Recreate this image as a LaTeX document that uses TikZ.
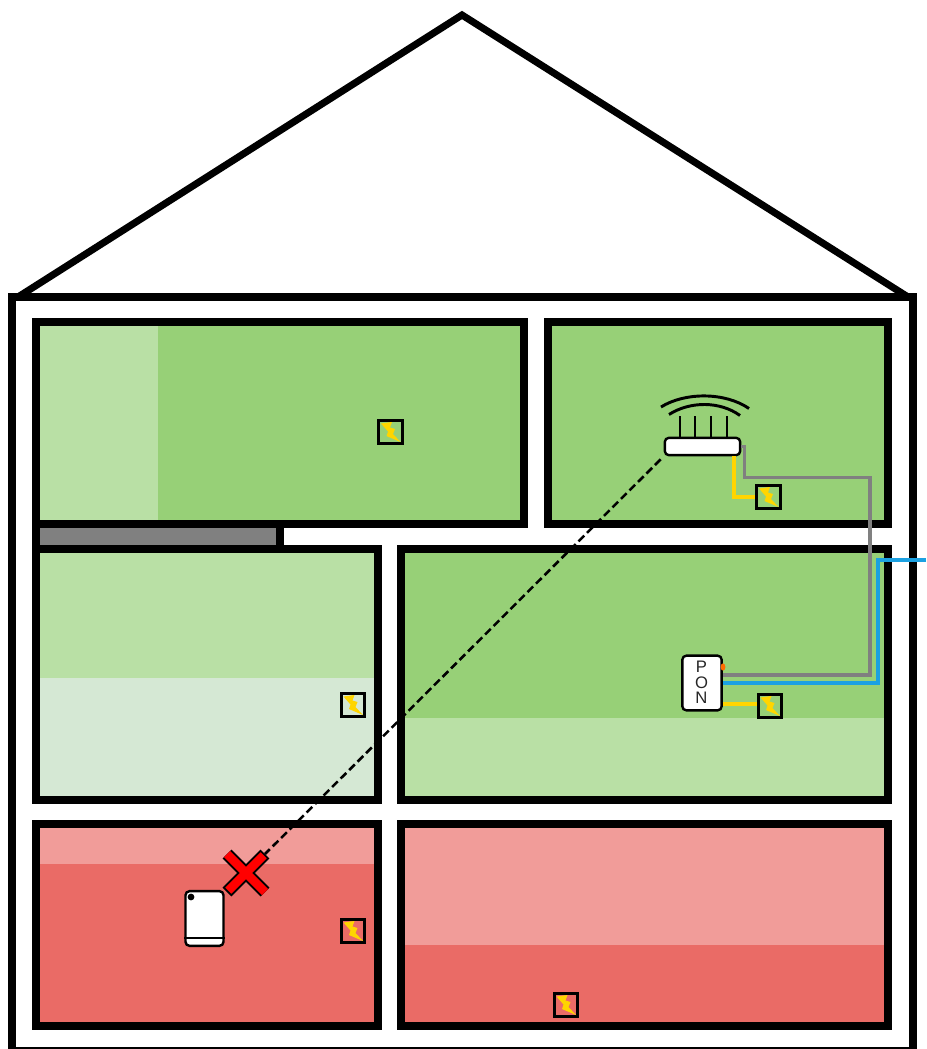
\documentclass[tikz,border=0pt]{standalone}
\usepackage{fontspec}
\setmainfont{Liberation Sans}
\definecolor{gd}{HTML}{97D077}
\definecolor{gl}{HTML}{B9E0A5}
\definecolor{gp}{HTML}{D5E8D4}
\definecolor{rd}{HTML}{EA6B66}
\definecolor{rl}{HTML}{F19C99}
\definecolor{yl}{HTML}{FFD500}
\definecolor{bl}{HTML}{1BA1E2}
\definecolor{gy}{HTML}{808080}
\tikzset{
  x=0.75pt,y=-0.75pt,
  wall/.style={draw=black,line width=5.3pt,line join=miter},
  socket/.style={draw=black,line width=2.2pt,minimum size=17.5pt,inner sep=0pt,rectangle},
  bolt/.style={fill=yl,draw=none},
  device/.style={draw=black,fill=white,line width=1.8pt,rounded corners=3pt,inner sep=0pt},
  wire/.style={line width=2.7pt,line join=miter},
  ant/.style={line width=2.1pt},
  arc/.style={line width=2.2pt},
}
\newcommand{\boltat}[1]{%
  \fill[bolt] ([shift={(-9.5,-8.5)}]#1.center) -- ([shift={(1.5,-10)}]#1.center) -- ([shift={(-0.5,-4.5)}]#1.center) -- ([shift={(4.5,-3)}]#1.center) -- ([shift={(2.5,2)}]#1.center) -- ([shift={(10,10)}]#1.center) -- ([shift={(-4,4)}]#1.center) -- ([shift={(-2.5,-0.5)}]#1.center) -- cycle;
}
\begin{document}
\begin{tikzpicture}
\useasboundingbox (0,0) rectangle (926,1049);
% house
\draw[wall] (12,1051) -- (12,297) -- (913,297) -- (913,1051) -- cycle;
\draw[wall] (18,297) -- (462,15) -- (908,297);
% fills
\fill[gd] (36,322) rectangle (524,524);
\fill[gl] (36,322) rectangle (158,524);
\fill[gd] (548,322) rectangle (888,524);
\fill[gl] (36,549) rectangle (378,678);
\fill[gp] (36,678) rectangle (378,800);
\fill[gd] (401,549) rectangle (888,718);
\fill[gl] (401,718) rectangle (888,800);
\fill[rl] (36,824) rectangle (378,864);
\fill[rd] (36,864) rectangle (378,1026);
\fill[rl] (401,824) rectangle (888,945);
\fill[rd] (401,945) rectangle (888,1026);
\fill[gy] (36,524) rectangle (280,549);
% walls
\draw[wall] (36,524) rectangle (280,549);
\draw[wall] (36,322) rectangle (524,524);
\draw[wall] (548,322) rectangle (888,524);
\draw[wall] (36,549) rectangle (378,800);
\draw[wall] (401,549) rectangle (888,800);
\draw[wall] (36,824) rectangle (378,1026);
\draw[wall] (401,824) rectangle (888,1026);
% sockets
\node[socket] (s1) at (390.5,432) {};
\node[socket] (s2) at (768.5,497) {};
\node[socket] (s3) at (353,705) {};
\node[socket] (s4) at (770,706) {};
\node[socket] (s5) at (353,931) {};
\node[socket] (s6) at (566,1005) {};
\boltat{s1}\boltat{s2}\boltat{s3}\boltat{s4}\boltat{s5}\boltat{s6}
% wires
\coordinate (ext) at (926,559.5);
\node[device,minimum width=56.5pt,minimum height=13pt] (router) at (702.5,446.5) {};
\node[device,minimum width=29.5pt,minimum height=41pt] (pon) at (702,683) {};
\node[device,minimum width=28.5pt,minimum height=41pt] (client) at (204.5,918.5) {};
\coordinate (bp) at (877.5,682.5);
\draw[wire,draw=gy] (router.east) -- ++(3,0) -- ++(0,31) -| (870,675) -- (pon.east |- 0,675);
\draw[wire,draw=bl,line width=3pt] (ext) -| (bp) -- (pon.east |- bp);
\draw[wire,draw=yl] (734,456) |- (s2.west);
\draw[wire,draw=yl] (pon.east |- 0,704) -- (s4.west |- 0,704);
\fill[orange!85!red] (723,667) ellipse (2.4 and 3.6);
\node[fill=none,draw=none,inner sep=0pt,font=\fontsize{12.5pt}{11.6pt}\selectfont,align=center,text=black!85] (ponlabel) at (701.5,682.5) {P\\O\\N};
% client detail
\draw[line width=1.5pt] ([shift={(0,19.5)}]client.west) -- ([shift={(0,19.5)}]client.east);
\fill ([shift={(-13.5,-21.5)}]client.center) circle (3.4);
% antennas
\coordinate (a1) at (680,438); \coordinate (a2) at (695,438);
\coordinate (a3) at (711,438); \coordinate (a4) at (727,438);
\draw[ant] (a1) -- ++(0,-22) (a2) -- ++(0,-22) (a3) -- ++(0,-22) (a4) -- ++(0,-22);
\draw[arc] (669,414.5) .. controls (690,401) and (720,401) .. (740,415.5);
\draw[arc] (661,407) .. controls (685,392) and (725,392) .. (749,408.5);
% dashed link
\coordinate (xa) at (227,854);
\coordinate (xb) at (265,892);
\coordinate (xc) at (265,854);
\coordinate (xd) at (227,892);
\draw[line width=1.9pt,dash pattern=on 6pt off 3pt] ([shift={(-3,3)}]router.south west) -- (xc);
% X
\draw[black,line width=9.4pt] (xa) -- (xb) (xc) -- (xd);
\draw[red,line width=6.4pt,shorten >=1.4pt,shorten <=1.4pt] (xa) -- (xb) (xc) -- (xd);
\end{tikzpicture}
\end{document}
